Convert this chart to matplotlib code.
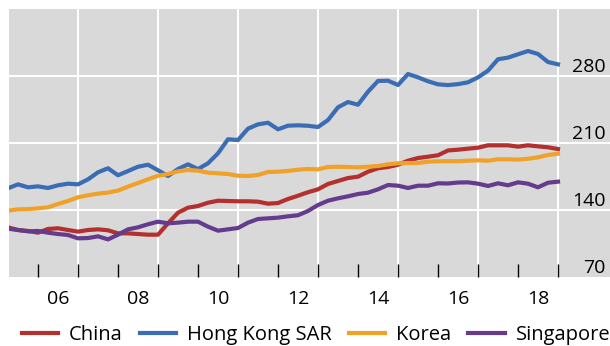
import matplotlib
matplotlib.use("Agg")
import matplotlib.pyplot as plt
import matplotlib.transforms as mtransforms
import numpy as np
import pandas as pd

plt.rcParams['font.family'] = ['Open Sans', 'DejaVu Sans']

quarters = pd.period_range('2005Q1', '2018Q4', freq='Q')

china = [121.9, 119.1, 118.1, 116.3, 120.2, 120.9, 119.1, 117.4, 119.1, 119.8,
         118.8, 115.6, 115.6, 114.9, 114.2, 114.2, 126.1, 137.2, 142.4, 144.2,
         147.6, 149.7, 149.4, 149.1, 149.1, 148.7, 146.6, 147.3, 151.5, 154.9,
         158.6, 161.6, 167.2, 170.3, 173.4, 174.8, 180.0, 183.6, 184.9, 187.3,
         191.5, 194.3, 195.7, 197.2, 202.2, 203.0, 204.1, 205.1, 207.6, 207.6,
         207.6, 206.2, 207.6, 206.5, 205.5, 203.7]
hong_kong = [162.7, 166.8, 163.7, 164.7, 163.0, 165.8, 167.5, 166.8, 172.0, 179.4,
             183.6, 176.3, 180.7, 185.2, 187.3, 181.5, 175.5, 182.8, 187.7, 182.8,
             188.8, 199.2, 213.9, 213.1, 225.0, 229.5, 231.2, 224.3, 228.1, 228.5,
             228.0, 226.7, 234.0, 247.3, 252.8, 250.0, 263.6, 274.8, 275.1, 270.6,
             282.1, 278.6, 274.5, 271.3, 270.5, 271.5, 273.4, 278.6, 285.6, 297.5,
             299.2, 302.7, 306.1, 303.0, 294.6, 292.2]
korea = [139.3, 140.7, 141.0, 141.7, 142.8, 146.3, 149.4, 153.3, 155.4, 157.1,
         158.2, 160.3, 164.4, 168.2, 172.1, 175.8, 177.6, 180.4, 181.8, 181.1,
         179.0, 178.3, 177.6, 175.8, 175.5, 176.6, 179.7, 180.0, 180.8, 182.1,
         182.8, 182.5, 184.9, 185.2, 184.9, 184.6, 185.2, 186.0, 187.7, 188.8,
         189.1, 189.1, 190.5, 190.9, 191.0, 191.0, 191.5, 191.9, 191.5, 193.0,
         193.0, 192.6, 193.6, 195.0, 197.5, 198.8]
singapore = [120.5, 119.1, 117.7, 118.1, 116.3, 114.9, 113.9, 110.4, 110.7, 112.5,
             109.3, 114.2, 119.8, 121.9, 125.1, 127.8, 126.1, 126.8, 127.8, 127.8,
             122.6, 118.4, 119.8, 121.2, 126.8, 130.6, 131.3, 132.0, 133.4, 134.5,
             139.0, 145.2, 149.7, 152.2, 154.3, 156.7, 158.1, 161.6, 166.1, 165.4,
             163.0, 165.4, 165.4, 167.9, 167.7, 168.7, 168.9, 167.5, 165.1, 167.9,
             165.8, 168.9, 167.5, 163.7, 168.5, 169.6]

series_names = ['China', 'Hong Kong SAR', 'Korea', 'Singapore']
series_colors = ['#B3302E', '#3B6DB4', '#F0A228', '#653C8D']
year_labels = ['06', '08', '10', '12', '14', '16', '18']
label_years = [2006, 2008, 2010, 2012, 2014, 2016, 2018]
y_ticks = [70, 140, 210, 280]

x = quarters.year + quarters.quarter / 4.0

fig = plt.figure(figsize=(6.10, 3.46), dpi=100)
ax = fig.add_axes([9 / 610, 69 / 346, 601 / 610, 268 / 346])
ax.set_facecolor('#D9D9D9')
for s in ax.spines.values():
    s.set_visible(False)

ax.set_xlim(2005.275, 2020.3)
ax.set_ylim(70, 350)

for yv in y_ticks[1:]:
    ax.axhline(yv, color='white', lw=1.5, zorder=1)
for xv in range(2007, 2020, 2):
    ax.axvline(xv, color='white', lw=1.5, zorder=1)

for vals, name, col in zip([china, hong_kong, korea, singapore], series_names, series_colors):
    ax.plot(x, vals, color=col, lw=3.0, label=name, zorder=3, solid_joinstyle='round')

# ticks at year boundaries, labels centred in the year
ax.set_xticks(range(2006, 2020))
ax.set_xticklabels([])
ax.tick_params(axis='x', which='major', direction='in', length=9.5, width=1.0, color='black')
ax.set_xticks([y + 0.5 for y in label_years], minor=True)
ax.set_xticklabels(year_labels, minor=True, fontsize=14)
ax.tick_params(axis='x', which='minor', length=0, pad=9)
ax.set_yticks([])

trans = mtransforms.blended_transform_factory(ax.transAxes, ax.transData)
off = mtransforms.ScaledTranslation(0, 4 / 100, fig.dpi_scale_trans)
for yv in y_ticks:
    ax.text(0.993, yv, str(yv), transform=trans + off, ha='right', va='baseline',
            fontsize=14, color='black')

leg = ax.legend(loc='center', bbox_to_anchor=(0.518, 11 / 346), bbox_transform=fig.transFigure,
                ncol=4, frameon=False, fontsize=14.5, handlelength=1.8,
                handletextpad=0.55, columnspacing=0.85, borderaxespad=0,
                borderpad=0)

fig.savefig('out.png', dpi=100)
